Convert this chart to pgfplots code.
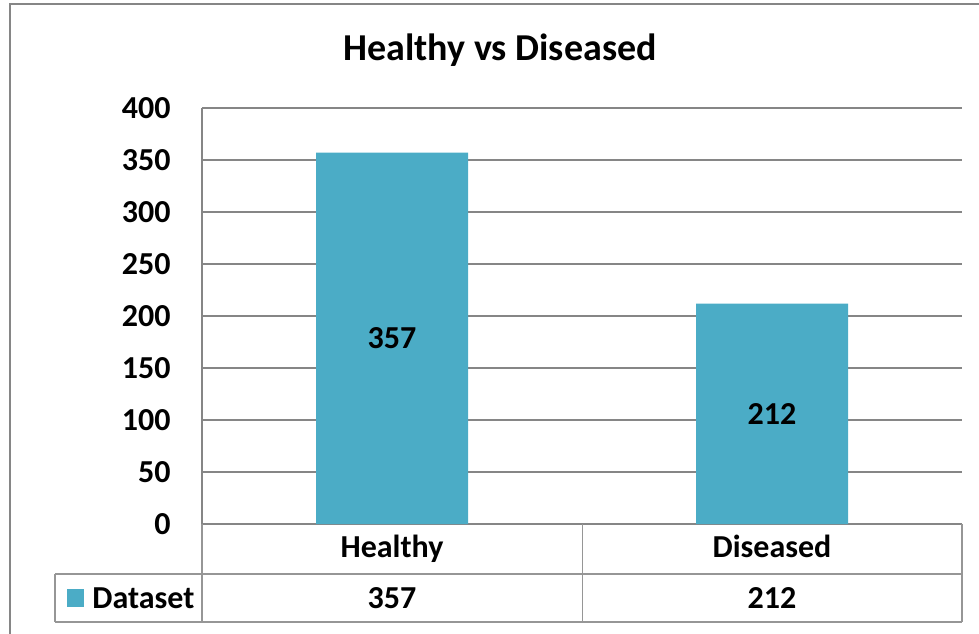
\documentclass[border=0pt]{standalone}
\usepackage{fontspec}
\setmainfont{Carlito}
\usepackage{pgfplots}
\pgfplotsset{compat=1.18}
\definecolor{barc}{RGB}{75,172,198}
\definecolor{gridc}{RGB}{134,134,134}
\definecolor{tablec}{RGB}{150,150,150}
\newcommand{\lbl}{\fontsize{16bp}{19bp}\selectfont\bfseries}
\begin{document}
\begin{tikzpicture}[x=1bp,y=1bp]
\path[use as bounding box] (0,0) rectangle (489.5,316.5);
\draw[gridc, line width=0.6bp] (5,-5) -- (5,314.5) -- (495,314.5);
\begin{axis}[
  at={(101bp,54.5bp)}, anchor=south west,
  scale only axis, width=380bp, height=208bp,
  xmin=-0.5, xmax=1.5, ymin=0, ymax=400,
  axis x line=bottom, axis y line=left,
  axis line style={gridc, line width=0.75bp, -},
  ytick={0,50,...,400},
  ymajorgrids, grid style={gridc, line width=0.75bp},
  xtick={0,1}, xticklabels={Healthy,Diseased},
  major tick length=0pt, tick style={draw=none},
  /pgf/number format/assume math mode=true,
  ticklabel style={font=\lbl},
  yticklabel style={anchor=east, inner sep=0pt, xshift=-15.5bp},
  xticklabel style={anchor=base, inner sep=0pt, yshift=-16.5bp},
  clip=false,
]
\addplot[ybar, bar width=76bp, fill=barc, draw=none,
  visualization depends on={y \as \rawy},
  nodes near coords,
  nodes near coords style={anchor=center, font=\lbl, text=black,
    shift={(axis direction cs:0,-\rawy/2)}}]
  coordinates {(0,357) (1,212)};
\end{axis}
\begin{scope}[tablec, line width=0.6bp]
\draw (27.5,29.5) -- (481,29.5);
\draw (27.5,5.5) -- (481,5.5);
\draw (27.5,29.5) -- (27.5,5.5);
\draw (101,54.5) -- (101,5.5);
\draw (291.25,54.5) -- (291.25,5.5);
\draw (481,54.5) -- (481,5.5);
\end{scope}
\fill[barc] (33.5,13) rectangle (42,22);
\node[anchor=base west, inner sep=0pt, font=\lbl] at (46,12.5) {Dataset};
\node[anchor=base, inner sep=0pt, font=\lbl] at (196,12.5) {357};
\node[anchor=base, inner sep=0pt, font=\lbl] at (386,12.5) {212};
\node[anchor=base, inner sep=0pt, font=\fontsize{19bp}{23bp}\selectfont\bfseries] at (250,286.5) {Healthy vs Diseased};
\end{tikzpicture}
\end{document}
